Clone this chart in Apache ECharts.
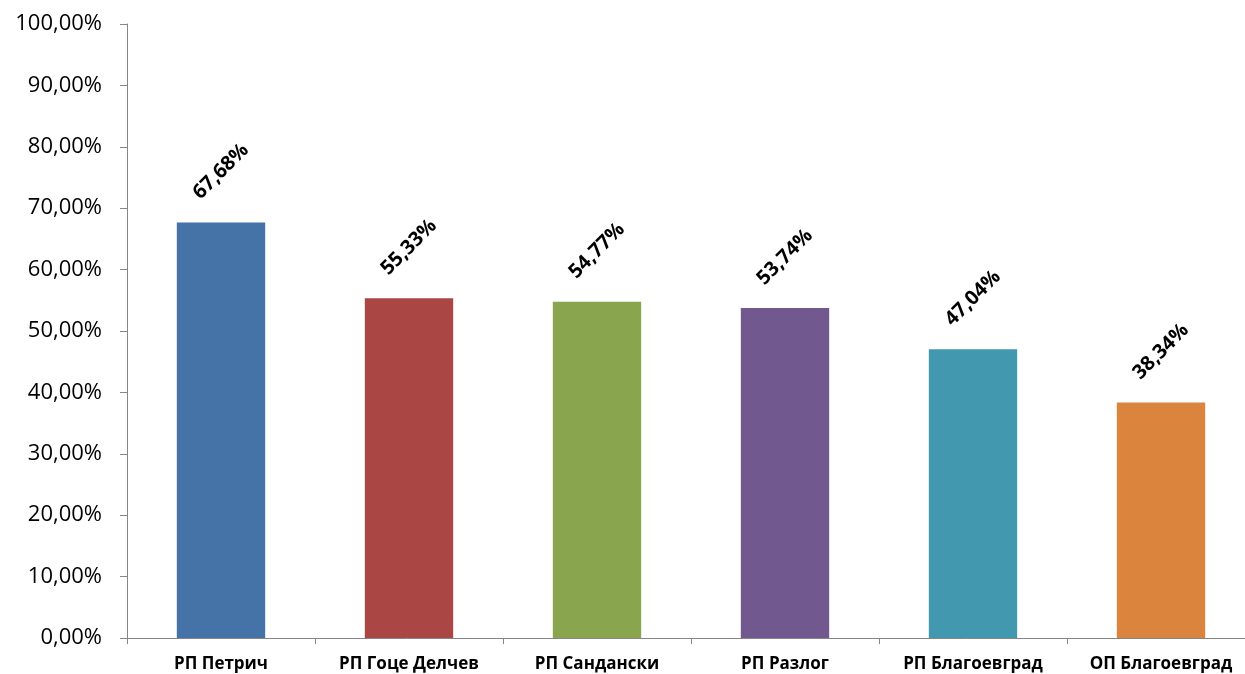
<!DOCTYPE html>
<html>
<head>
<meta charset="utf-8">
<script src="https://cdn.jsdelivr.net/npm/echarts@6/dist/echarts.min.js"></script>
<style>
html,body{margin:0;padding:0;background:#fff;overflow:hidden;}
#chart{width:1245px;height:674px;}
</style>
</head>
<body>
<div id="chart"></div>
<script>
const categories = ['РП Петрич', 'РП Гоце Делчев', 'РП Сандански', 'РП Разлог', 'РП Благоевград', 'ОП Благоевград'];
const values = [67.68, 55.33, 54.77, 53.74, 47.04, 38.34];
const barColors = ['#4572A7', '#AA4643', '#89A54E', '#71588F', '#4198AF', '#DB843D'];
const yTicks = { min: 0, max: 100, interval: 10 };

const fmt = v => v.toFixed(2).replace('.', ',') + '%';

const chart = echarts.init(document.getElementById('chart'), null, { renderer: 'canvas' });
chart.setOption({
  animation: false,
  backgroundColor: '#ffffff',
  grid: { left: 127, right: -10, top: 24, bottom: 36, containLabel: false, outerBoundsMode: 'none' },
  xAxis: {
    type: 'category',
    data: categories,
    boundaryGap: true,
    axisLine: { lineStyle: { color: '#868686', width: 1 } },
    axisTick: { show: true, alignWithLabel: false, length: 6, lineStyle: { color: '#868686' } },
    axisLabel: {
      margin: 18,
      color: '#000',
      fontFamily: 'Open Sans',
      fontWeight: 'bold',
      fontSize: 17,
      interval: 0
    }
  },
  yAxis: {
    type: 'value',
    min: yTicks.min,
    max: yTicks.max,
    interval: yTicks.interval,
    splitLine: { show: false },
    axisLine: { show: true, lineStyle: { color: '#868686', width: 1 } },
    axisTick: { show: true, length: 7, lineStyle: { color: '#868686' } },
    axisLabel: {
      margin: 25,
      color: '#000',
      fontFamily: 'Open Sans',
      fontSize: 22,
      formatter: v => fmt(v)
    }
  },
  series: [{
    type: 'bar',
    data: values.map((v, i) => ({ value: v, itemStyle: { color: barColors[i] } })),
    barWidth: '47%',
    label: {
      show: true,
      position: 'top',
      distance: 51,
      rotate: 45,
      align: 'center',
      verticalAlign: 'middle',
      color: '#000',
      fontFamily: 'Open Sans',
      fontWeight: 'bold',
      fontSize: 20,
      formatter: p => fmt(p.value)
    }
  }]
});
</script>
</body>
</html>
